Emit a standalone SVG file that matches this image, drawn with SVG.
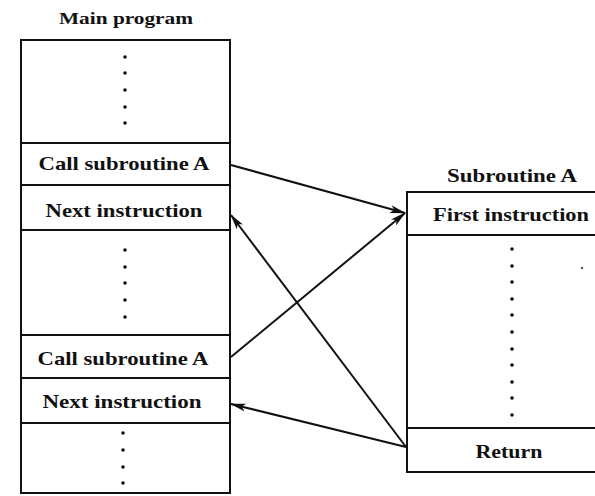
<svg xmlns="http://www.w3.org/2000/svg" width="595" height="496" viewBox="0 0 595 496">
<style>
.box{fill:#fff;stroke:#111;stroke-width:2}
.div{stroke:#111;stroke-width:2}
.t{font-family:"Liberation Serif","Times New Roman",serif;font-weight:bold;font-size:19px;fill:#111;text-anchor:middle}
.h{font-size:17px}
.dot{fill:#111}
.c{stroke:#111;stroke-width:2;fill:none;marker-end:url(#ah)}
</style>
<defs>
<marker id="ah" viewBox="0 0 16 8" refX="15" refY="4" markerWidth="16" markerHeight="8" markerUnits="userSpaceOnUse" orient="auto">
<path d="M0,0 L16,4 L0,8 L4,4 Z" fill="#111"/>
</marker>
</defs>
<g id="main">
<text class="t h" x="126" y="24" textLength="134" lengthAdjust="spacingAndGlyphs">Main program</text>
<rect class="box" x="21" y="40" width="209" height="453"/>
<line class="div" x1="21" y1="143" x2="230" y2="143"/>
<line class="div" x1="21" y1="185" x2="230" y2="185"/>
<line class="div" x1="21" y1="230" x2="230" y2="230"/>
<line class="div" x1="21" y1="335" x2="230" y2="335"/>
<line class="div" x1="21" y1="378" x2="230" y2="378"/>
<line class="div" x1="21" y1="423" x2="230" y2="423"/>
<g class="dot">
<circle cx="125" cy="57" r="1.8"/><circle cx="125" cy="73" r="1.8"/><circle cx="125" cy="90" r="1.8"/><circle cx="125" cy="107" r="1.8"/><circle cx="125" cy="123" r="1.8"/>
<circle cx="125" cy="250" r="1.8"/><circle cx="125" cy="267" r="1.8"/><circle cx="125" cy="283" r="1.8"/><circle cx="125" cy="300" r="1.8"/><circle cx="125" cy="317" r="1.8"/>
<circle cx="123" cy="433" r="1.8"/><circle cx="123" cy="450" r="1.8"/><circle cx="123" cy="467" r="1.8"/><circle cx="123" cy="483" r="1.8"/>
</g>
<text class="t" x="124" y="170" textLength="171" lengthAdjust="spacingAndGlyphs">Call subroutine A</text>
<text class="t" x="124" y="217" textLength="157" lengthAdjust="spacingAndGlyphs">Next instruction</text>
<text class="t" x="123" y="365" textLength="171" lengthAdjust="spacingAndGlyphs">Call subroutine A</text>
<text class="t" x="122" y="408" textLength="159" lengthAdjust="spacingAndGlyphs">Next instruction</text>
</g>
<g id="subroutine">
<text class="t" x="512" y="182" textLength="130" lengthAdjust="spacingAndGlyphs">Subroutine A</text>
<rect class="box" x="407" y="192" width="200" height="280"/>
<line class="div" x1="407" y1="235" x2="600" y2="235"/>
<line class="div" x1="407" y1="428" x2="600" y2="428"/>
<text class="t" x="511" y="221" textLength="156" lengthAdjust="spacingAndGlyphs">First instruction</text>
<g class="dot">
<circle cx="512" cy="249" r="1.8"/><circle cx="512" cy="266" r="1.8"/><circle cx="512" cy="282" r="1.8"/><circle cx="512" cy="299" r="1.8"/><circle cx="512" cy="315" r="1.8"/><circle cx="512" cy="332" r="1.8"/><circle cx="512" cy="349" r="1.8"/><circle cx="512" cy="365" r="1.8"/><circle cx="512" cy="382" r="1.8"/><circle cx="512" cy="398" r="1.8"/><circle cx="512" cy="415" r="1.8"/>
<circle cx="582" cy="268" r="1"/>
</g>
<text class="t" x="509" y="458" textLength="67" lengthAdjust="spacingAndGlyphs">Return</text>
</g>
<g id="connectors">
<line class="c" x1="231" y1="165" x2="405" y2="213"/>
<line class="c" x1="231" y1="357" x2="405" y2="213"/>
<line class="c" x1="406" y1="447" x2="231" y2="215"/>
<line class="c" x1="406" y1="447" x2="231" y2="404"/>
</g>
</svg>
